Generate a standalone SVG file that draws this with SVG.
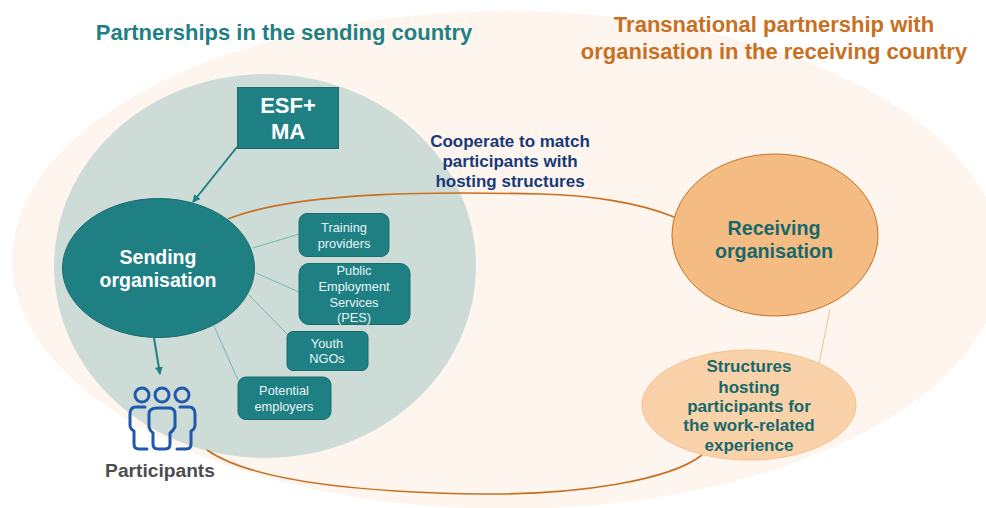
<svg xmlns="http://www.w3.org/2000/svg" width="986" height="508" viewBox="0 0 986 508">
<defs>
<marker id="ah" markerWidth="10" markerHeight="10" refX="7" refY="4" orient="auto" markerUnits="userSpaceOnUse"><path d="M0 0L8 4L0 8Z" fill="#1f8084"/></marker>
</defs>
<style>
text{font-family:"Liberation Sans",Arial,sans-serif;text-anchor:middle}
.b{font-weight:700}
.w{fill:#fff}
.box{fill:#1f8084;stroke:#1a6b70;stroke-width:1}
.sm{font-size:12.800px;fill:#e8f4f4}
.link{stroke:#3b9a9c;stroke-width:.6;fill:none}
.tk{stroke:#1f8084;stroke-width:2;fill:none}
.or{stroke:#c8701f;stroke-width:1.600;fill:none}
.ic{stroke:#2157ad;stroke-width:3;fill:none;stroke-linecap:round;stroke-linejoin:round}
.dk{fill:#17686c}
</style>
<rect width="986" height="508" fill="#fff"/>
<ellipse cx="507" cy="260" rx="495" ry="249" fill="#fef5ef"/>
<ellipse cx="265" cy="266" rx="211" ry="192" fill="#cedcd7"/>
<g id="connectors">
<path class="or" d="M228 219C300 190 450 192 540 194C590 195 640 203 674 217"/>
<path class="or" d="M207 450C250 480 350 492 480 494C580 495 670 480 702 455"/>
<path class="link" d="M253 248L299 234M256 273L299 292M249 295L288 335M214 326L238 380"/>
<path d="M830 309L819 364" stroke="#f5bd87" stroke-width="1" fill="none"/>
<path class="tk" d="M237 147L193 202" marker-end="url(#ah)"/>
<path class="tk" d="M154 338L160 374" marker-end="url(#ah)"/>
</g>
<text class="b" x="284" y="40" font-size="22" fill="#1f8084">Partnerships in the sending country</text>
<text class="b" x="774" y="32" font-size="22" fill="#c8701f">Transnational partnership with</text>
<text class="b" x="774" y="59" font-size="22" fill="#c8701f">organisation in the receiving country</text>
<text class="b" x="510" y="147" font-size="17" fill="#173a78">Cooperate to match</text>
<text class="b" x="510" y="167" font-size="17" fill="#173a78">participants with</text>
<text class="b" x="510" y="187" font-size="17" fill="#173a78">hosting structures</text>
<g id="esf"><rect class="box" x="237.500" y="87.500" width="101" height="61"/><text class="b w" x="288" y="113" font-size="22">ESF+</text><text class="b w" x="288" y="139" font-size="22">MA</text></g>
<g id="sending"><ellipse cx="158.500" cy="268" rx="96" ry="69.500" class="box"/><text class="b w" x="158" y="264" font-size="19.500">Sending</text><text class="b w" x="158" y="287" font-size="19.500">organisation</text></g>
<g id="training"><rect class="box" x="299" y="213.500" width="90" height="43" rx="8"/><text class="sm" x="344" y="232">Training</text><text class="sm" x="344" y="248">providers</text></g>
<g id="pes"><rect class="box" x="299" y="263.500" width="111" height="61" rx="10"/><text class="sm" x="354" y="275">Public</text><text class="sm" x="354" y="291">Employment</text><text class="sm" x="354" y="307">Services</text><text class="sm" x="354" y="322">(PES)</text></g>
<g id="ngo"><rect class="box" x="287" y="331.500" width="81" height="39" rx="6"/><text class="sm" x="327" y="348">Youth</text><text class="sm" x="327" y="363">NGOs</text></g>
<g id="employers"><rect class="box" x="238" y="377" width="93" height="42.500" rx="8"/><text class="sm" x="284" y="395">Potential</text><text class="sm" x="284" y="411">employers</text></g>
<g id="participants">
<circle class="ic" cx="142" cy="395" r="7"/><circle class="ic" cx="162" cy="395" r="7"/><circle class="ic" cx="182" cy="395" r="7"/>
<path class="ic" d="M145 407H136Q130 407 130 414V425Q130 429 134 431V444Q134 449 139 449H147"/>
<path class="ic" d="M180 407H189Q195 407 195 414V425Q195 429 191 431V444Q191 449 186 449H177"/>
<path class="ic" d="M157 408H169Q175 408 175 414V427Q173 431 170 433V444Q170 449 165 449H158Q153 449 153 444V433Q150 431 149 427V414Q149 408 157 408Z"/>
<text class="b" x="160" y="477" font-size="19.200" fill="#4d4d4d">Participants</text>
</g>
<g id="receiving"><ellipse cx="775" cy="235" rx="103" ry="81" fill="#f4bb82" stroke="#c8701f" stroke-width="1"/><text class="b dk" x="774" y="235" font-size="19.700">Receiving</text><text class="b dk" x="774" y="258" font-size="19.700">organisation</text></g>
<g id="structures"><ellipse cx="749" cy="405" rx="107" ry="55" fill="#f9d2a9" stroke="#f5c08d" stroke-width="1"/>
<text class="b dk" x="749" y="372" font-size="17">Structures</text><text class="b dk" x="749" y="393" font-size="17">hosting</text><text class="b dk" x="749" y="412" font-size="17">participants for</text><text class="b dk" x="749" y="431" font-size="17">the work-related</text><text class="b dk" x="749" y="451" font-size="17">experience</text></g>
</svg>
